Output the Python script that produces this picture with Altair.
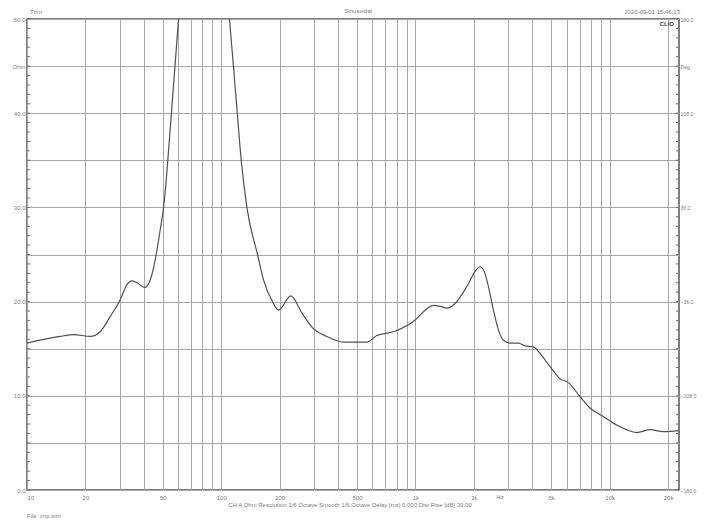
import altair as alt
import pandas as pd

# ---- data ----
freq_hz = [10.0, 14.8, 17.4, 21.2, 23.8, 26.8, 30.2, 32.7, 34.7, 37.5, 40.3, 43.1, 45.7, 48.5, 50.5,
           52.1, 53.1, 55.4, 57.8, 60.3, 66.0, 80.0, 100.0, 110.3, 115.6, 121.0, 126.8, 135.6,
           153.8, 165.1, 183.7, 197.2, 228.4, 260.2, 293.0, 350.0, 426.0, 519.0, 562.0, 633.0,
           771.0, 977.0, 1238.0, 1340.0, 1451.0, 1601.0, 1839.0, 2029.0, 2153.0, 2239.0, 2376.0,
           2521.0, 2675.0, 2838.0, 3073.0, 3390.0, 3669.0, 4049.0, 4383.0, 4650.0, 4935.0, 5555.0,
           6130.0, 7041.0, 7928.0, 9284.0, 10877.0, 13788.0, 16144.0, 18899.0, 22760.0]
impedance_ohm = [15.6, 16.3, 16.5, 16.3, 16.8, 18.4, 20.2, 21.8, 22.2, 21.9, 21.5, 22.3, 24.4, 27.6, 30.0,
                 32.9, 35.0, 40.0, 45.0, 50.0, 62.0, 95.0, 62.0, 50.0, 45.0, 40.0, 35.0, 30.0,
                 25.0, 22.3, 20.0, 19.1, 20.6, 18.8, 17.3, 16.3, 15.7, 15.7, 15.7, 16.4,
                 16.8, 17.9, 19.6, 19.5, 19.3, 19.8, 21.6, 23.2, 23.7, 23.4, 21.6,
                 19.1, 17.0, 15.9, 15.6, 15.6, 15.3, 15.2, 14.5, 13.8, 13.1, 11.8,
                 11.4, 9.9, 8.7, 7.8, 6.9, 6.1, 6.4, 6.2, 6.3]

x_grid = [10, 20, 30, 40, 50, 60, 70, 80, 90, 100, 200, 300, 400, 500, 600, 700, 800, 900,
          1000, 2000, 3000, 4000, 5000, 6000, 7000, 8000, 9000, 10000, 20000]
x_labels = {10: "10", 20: "20", 50: "50", 100: "100", 200: "200", 500: "500",
            1000: "1k", 2000: "2k", 5000: "5k", 10000: "10k", 20000: "20k"}
y_grid = [0, 5, 10, 15, 20, 25, 30, 35, 40, 45, 50]
y_minor = list(range(0, 51))
deg_ticks = [-180, -108, -36, 36, 108, 144, 180]

X_DOMAIN = [10, 22760]
W, H = 652, 471
FONT = "Liberation Sans"
LBL = "#808080"
FS = 6

curve = pd.DataFrame({"f": freq_hz, "z": impedance_ohm})
minor = pd.DataFrame({"v": y_minor})
degs = pd.DataFrame({"d": deg_ticks})

xscale = alt.Scale(type="log", domain=X_DOMAIN, nice=False)
yscale = alt.Scale(domain=[0, 50], nice=False)

label_expr = " : ".join([f"datum.value == {k} ? '{v}'" for k, v in x_labels.items()]) + " : ''"

line = alt.Chart(curve).mark_line(color="#505050", strokeWidth=1.2, clip=True,
                                   interpolate="monotone").encode(
    x=alt.X("f:Q", scale=xscale, title=None,
            axis=alt.Axis(values=x_grid, labelExpr=label_expr, grid=True, gridColor="#a8a8a8",
                          gridWidth=1, tickSize=0, domain=False, labelPadding=4,
                          labelFont=FONT, labelFontSize=FS, labelColor=LBL, labelOverlap=False)),
    y=alt.Y("z:Q", scale=yscale, title=None,
            axis=alt.Axis(values=y_grid, orient="left", grid=True, gridColor="#a8a8a8", gridWidth=1,
                          tickSize=0, domain=False, labelPadding=2,
                          labelExpr="datum.value == 45 ? 'Ohm' : (datum.value % 10 == 0 ? format(datum.value, '.1f') : '')",
                          labelFont=FONT, labelFontSize=FS, labelColor=LBL)),
)

ticks_left = alt.Chart(minor).mark_rule(color="#707070", strokeWidth=1).encode(
    y=alt.Y("v:Q", scale=yscale, axis=None), x=alt.value(0), x2=alt.value(3))
ticks_right = alt.Chart(minor).mark_rule(color="#707070", strokeWidth=1).encode(
    y=alt.Y("v:Q", scale=yscale, axis=None), x=alt.value(W - 3), x2=alt.value(W))

deg_axis = alt.Chart(degs).mark_point(opacity=0).encode(
    y=alt.Y("d:Q", scale=alt.Scale(domain=[-180, 180], nice=False), title=None,
            axis=alt.Axis(orient="right", values=deg_ticks, grid=False, tickSize=0, domain=False,
                          labelPadding=1,
                          labelExpr="datum.value == 144 ? 'Deg' : format(datum.value, '.1f')",
                          labelFont=FONT, labelFontSize=5.1, labelColor=LBL)))

one = alt.InlineData(values=[{"a": 1}])


def txt(s, x, y, align="center", size=FS, color=LBL, weight="normal"):
    return alt.Chart(one).mark_text(text=s, align=align, baseline="middle", font=FONT,
                                    fontSize=size, color=color, fontWeight=weight, clip=False).encode(
        x=alt.value(x), y=alt.value(y))


texts = [
    txt("Trim", 9, -7),
    txt("Sinusoidal", 331, -8),
    txt("2020-09-01 15:46:13", 653, -7, align="right"),
    txt("CLIO", 647, 5, align="right", color="#404040", weight="bold"),
    txt("Hz", 473, 478),
    txt("CH A  Ohm  Resolution 1/6 Octave  Smooth 1/6 Octave  Delay [ms] 0.000  Dist Rise [dB] 30.00",
        323, 486),
    txt("File: imp.sim", 0, 497, align="left"),
]

chart = alt.layer(line, ticks_left, ticks_right, deg_axis, *texts).resolve_scale(
    y="independent"
).properties(
    width=W, height=H,
    autosize=alt.AutoSizeParams(type="none"),
    padding={"left": 19, "top": 11, "right": 18, "bottom": 30},
).configure_view(stroke="#555555", strokeWidth=1.5)

chart.save("out.html", embed_options={"renderer": "svg", "actions": False})
